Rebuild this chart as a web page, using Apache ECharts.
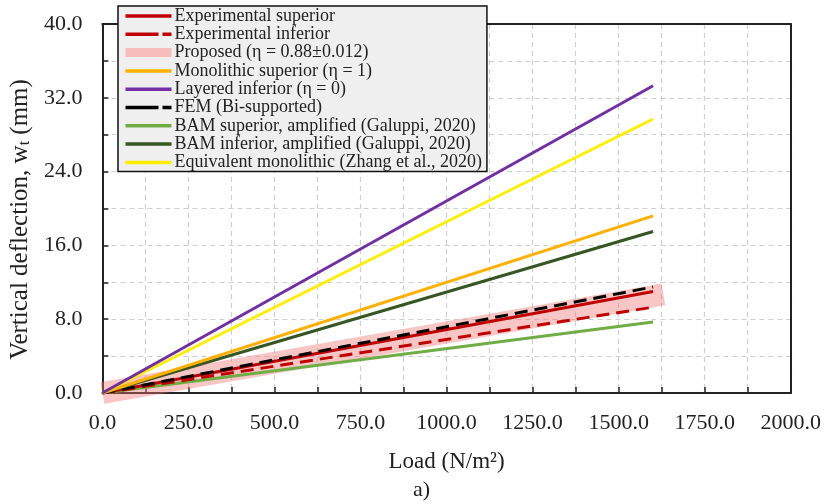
<!DOCTYPE html>
<html>
<head>
    <meta charset="utf-8">
    <title>Deflection vs load</title>
    <script src="https://cdn.jsdelivr.net/npm/echarts@6/dist/echarts.min.js"></script>
</head>
<body style="margin:0">
<div id="main" style="width: 824px; height: 504px;"></div>
<script type="text/javascript">
    // loads (N/m2) and deflections (mm)
    var loads = [0, 1600];
    var proposedLoads = [0, 1630];

    var expSuperior = [0, 11.0];
    var expInferior = [0, 9.3];
    var proposed = [0, 10.7];
    var monoSuperior = [0, 19.2];
    var layeredInferior = [0, 33.3];
    var fem = [0, 11.5];
    var bamSuperior = [0, 7.7];
    var bamInferior = [0, 17.5];
    var equivMono = [0, 29.7];

    var names = [
        'Experimental superior',
        'Experimental inferior',
        'Proposed (\u03b7 = 0.88\u00b10.012)',
        'Monolithic superior (\u03b7 = 1)',
        'Layered inferior (\u03b7 = 0)',
        'FEM (Bi-supported)',
        'BAM superior, amplified (Galuppi, 2020)',
        'BAM inferior, amplified (Galuppi, 2020)',
        'Equivalent monolithic (Zhang et al., 2020)'
    ];

    var font = '"Liberation Serif", "Times New Roman", serif';

    function pairs(xs, ys) {
        var d = [];
        for (var i = 0; i < xs.length; i++) d.push([xs[i], ys[i]]);
        return d;
    }

    function line(name, xs, ys, color, width, type) {
        return {
            name: name,
            type: 'line',
            data: pairs(xs, ys),
            symbol: 'none',
            silent: true,
            lineStyle: { color: color, width: width, type: type || 'solid', cap: 'butt' },
            itemStyle: { color: color }
        };
    }

    var myChart = echarts.init(document.getElementById('main'));

    var bandColor = 'rgba(241,120,120,0.42)';

    var legendData = names.map(function (n, i) {
        if (i === 2) return { name: n, lineStyle: { width: 9, color: '#f7bcbc' } };
        if (i === 1 || i === 5) return { name: n, lineStyle: { type: [33, 4] } };
        return { name: n };
    });

    var grid = { color: '#cfcfcf', type: [5, 4], width: 1.2 };

    function frameAxis(pos, max) {
        return {
            type: 'value',
            position: pos,
            min: 0,
            max: max,
            axisLine: { show: true, onZero: false, lineStyle: { color: '#222', width: 2 } },
            axisTick: { show: false },
            axisLabel: { show: false },
            splitLine: { show: false }
        };
    }

    var option = {
        backgroundColor: '#fff',
        animation: false,
        textStyle: { fontFamily: font },
        title: {
            text: 'a)',
            left: 413,
            top: 479,
            padding: 0,
            textStyle: { fontFamily: font, fontSize: 22, fontWeight: 'normal', color: '#222' }
        },
        legend: {
            orient: 'vertical',
            left: 118,
            top: 6,
            padding: [1, 5, 0, 3],
            itemWidth: 46,
            itemHeight: 14,
            itemGap: 0.3,
            backgroundColor: '#efefef',
            borderColor: '#111',
            borderWidth: 1.5,
            borderRadius: 0,
            selectedMode: false,
            itemStyle: { opacity: 0 },
            lineStyle: { width: 3.5 },
            textStyle: { fontFamily: font, fontSize: 18, lineHeight: 17.4, color: '#222', padding: [0, 0, 0, -2] },
            data: legendData
        },
        grid: {
            left: 102,
            right: 32,
            top: 24,
            bottom: 111
        },
        xAxis: [{
            type: 'value',
            min: 0,
            max: 2000,
            interval: 250,
            name: 'Load (N/m\u00b2)',
            nameLocation: 'middle',
            nameGap: 57,
            nameTextStyle: { fontFamily: font, fontSize: 23, color: '#222' },
            axisLine: { lineStyle: { color: '#222', width: 2 } },
            axisTick: { show: true, inside: true, length: 6, lineStyle: { color: '#222', width: 1.5 } },
            minorTick: { show: true, splitNumber: 2, length: 6, lineStyle: { color: '#222', width: 1.5 } },
            axisLabel: {
                margin: 19,
                fontFamily: font,
                fontSize: 22,
                color: '#222',
                formatter: function (v) { return v.toFixed(1); }
            },
            splitLine: { show: true, lineStyle: grid },
            minorSplitLine: { show: true, lineStyle: grid }
        }, frameAxis('top', 2000)],
        yAxis: [{
            type: 'value',
            min: 0,
            max: 40,
            interval: 8,
            name: '{a|Vertical deflection, w}{s|t}{a| (mm)}',
            nameLocation: 'middle',
            nameGap: 67,
            nameTextStyle: {
                padding: [0, 22, 0, 0],
                rich: {
                    a: { fontFamily: font, fontSize: 25, color: '#222' },
                    s: { fontFamily: font, fontSize: 16, color: '#222', verticalAlign: 'bottom', padding: [9, 0, 0, 0] }
                }
            },
            axisLine: { show: true, lineStyle: { color: '#222', width: 2 } },
            axisTick: { show: true, inside: true, length: 6, lineStyle: { color: '#222', width: 1.5 } },
            minorTick: { show: true, splitNumber: 2, length: 6, lineStyle: { color: '#222', width: 1.5 } },
            axisLabel: {
                margin: 20,
                fontFamily: font,
                fontSize: 22,
                color: '#222',
                formatter: function (v) { return v.toFixed(1); }
            },
            splitLine: { show: true, lineStyle: grid },
            minorSplitLine: { show: true, lineStyle: grid }
        }, frameAxis('right', 40)],
        series: [
            line(names[2], proposedLoads, proposed, bandColor, 22),
            line(names[6], loads, bamSuperior, '#70ad47', 3),
            line(names[1], loads, expInferior, '#c00000', 3, [13, 7]),
            line(names[0], loads, expSuperior, '#c00000', 3),
            line(names[5], loads, fem, '#000000', 3, [13, 7]),
            line(names[7], loads, bamInferior, '#375623', 3),
            line(names[3], loads, monoSuperior, '#ffb000', 3),
            line(names[8], loads, equivMono, '#ffee00', 3),
            line(names[4], loads, layeredInferior, '#7030a0', 3)
        ]
    };

    myChart.setOption(option);
</script>
</body>
</html>
